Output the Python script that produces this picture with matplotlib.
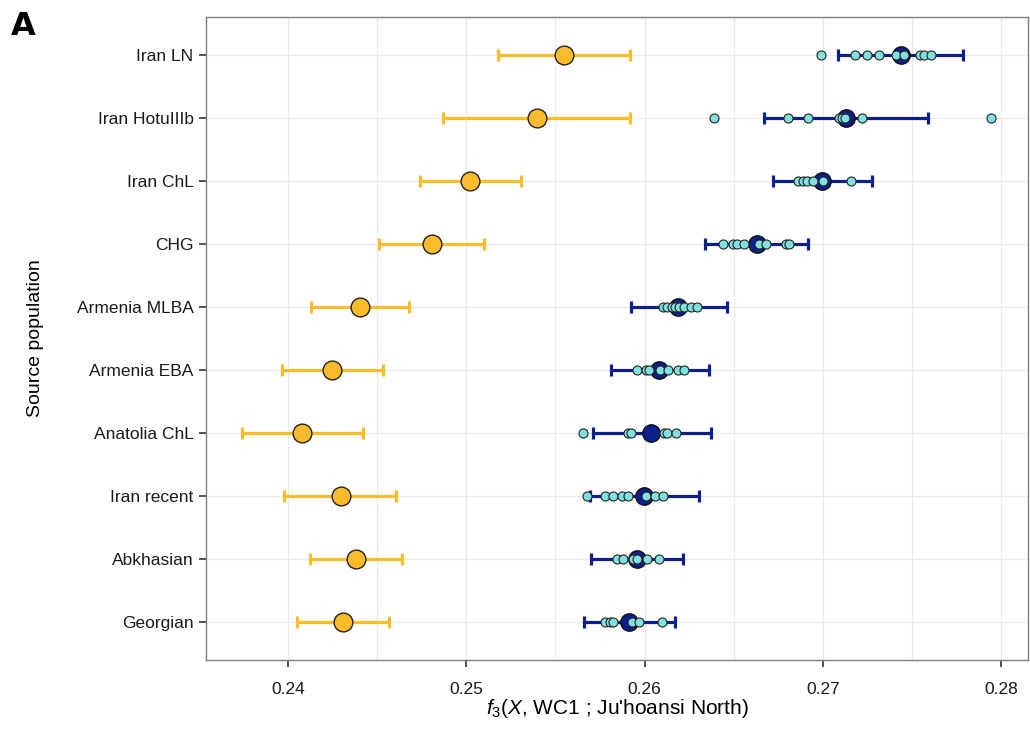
import matplotlib.pyplot as plt
import numpy as np

plt.rcParams['font.family'] = ['Liberation Sans', 'DejaVu Sans']
plt.rcParams['mathtext.fontset'] = 'custom'
plt.rcParams['mathtext.rm'] = 'Liberation Sans'
plt.rcParams['mathtext.it'] = 'Liberation Sans:italic'

# populations, bottom to top
populations = ["Georgian", "Abkhasian", "Iran recent", "Anatolia ChL", "Armenia EBA",
               "Armenia MLBA", "CHG", "Iran ChL", "Iran HotuIIIb", "Iran LN"]

# yellow series (point estimate and error bar ends)
yel_est = [0.24308, 0.24381, 0.24297, 0.24079, 0.24247, 0.24404, 0.24808, 0.25021, 0.25397, 0.25548]
yel_lo = [0.24050, 0.24123, 0.23978, 0.23742, 0.23966, 0.24129, 0.24510, 0.24740, 0.24869, 0.25178]
yel_hi = [0.24566, 0.24639, 0.24606, 0.24421, 0.24533, 0.24679, 0.25099, 0.25307, 0.25918, 0.25918]

# navy series
navy_est = [0.25914, 0.25956, 0.25997, 0.26034, 0.26082, 0.26189, 0.26629, 0.26997, 0.27130, 0.27438]
navy_lo = [0.25660, 0.25701, 0.25694, 0.25709, 0.25810, 0.25922, 0.26339, 0.26721, 0.26670, 0.27085]
navy_hi = [0.26171, 0.26214, 0.26307, 0.26371, 0.26363, 0.26460, 0.26918, 0.27278, 0.27589, 0.27786]

# individual values (cyan points)
indiv = [
    [0.25778, 0.25806, 0.25824, 0.25928, 0.25970, 0.26096],
    [0.25843, 0.25881, 0.25937, 0.25959, 0.26015, 0.26079],
    [0.25679, 0.25778, 0.25824, 0.25872, 0.25905, 0.26008, 0.26058, 0.26102],
    [0.25653, 0.25905, 0.25924, 0.26110, 0.26127, 0.26176],
    [0.25956, 0.26008, 0.26026, 0.26086, 0.26133, 0.26189, 0.26221],
    [0.26105, 0.26127, 0.26152, 0.26171, 0.26195, 0.26221, 0.26260, 0.26292],
    [0.26441, 0.26494, 0.26516, 0.26559, 0.26643, 0.26681, 0.26791, 0.26810],
    [0.26862, 0.26890, 0.26909, 0.26946, 0.27002, 0.27158],
    [0.26389, 0.26806, 0.26918, 0.27090, 0.27109, 0.27122, 0.27217],
    [0.26989, 0.27182, 0.27249, 0.27313, 0.27408, 0.27455, 0.27545, 0.27567, 0.27608],
]
outlier_hotu = 0.27945

yellow = "#FBBC2A"
navy = "#0C1F8C"
cyan = "#80E2DE"

fig = plt.figure(figsize=(10.3, 7.29), dpi=100)
ax = fig.add_axes([0.2, 0.0947, 0.798, 0.882])

y = np.arange(1, len(populations) + 1)

# grid
ax.set_xticks([0.24, 0.25, 0.26, 0.27, 0.28])
ax.set_xticks(np.arange(0.235, 0.2816, 0.005), minor=True)
ax.grid(True, which='both', axis='x', color='#ebebeb', linewidth=1.0, zorder=0)
ax.grid(True, which='major', axis='y', color='#ebebeb', linewidth=1.0, zorder=0)
ax.set_axisbelow(True)

ye = [np.array(yel_est) - np.array(yel_lo), np.array(yel_hi) - np.array(yel_est)]
ax.errorbar(yel_est, y, xerr=ye, fmt='none', ecolor=yellow, elinewidth=2.3,
            capsize=4.5, capthick=2.3, zorder=2)
ax.plot(yel_est, y, 'o', ms=13.5, mfc=yellow, mec='#222222', mew=1.0, zorder=3)

ne = [np.array(navy_est) - np.array(navy_lo), np.array(navy_hi) - np.array(navy_est)]
ax.errorbar(navy_est, y, xerr=ne, fmt='none', ecolor=navy, elinewidth=2.3,
            capsize=4.5, capthick=2.3, zorder=2)
ax.plot(navy_est, y, 'o', ms=12.5, mfc=navy, mec='#111111', mew=1.0, zorder=3)

for i, vals in enumerate(indiv):
    ax.plot(vals, [y[i]] * len(vals), 'o', ms=6.5, mfc=cyan, mec='#222222', mew=0.8, zorder=4)
ax.plot([outlier_hotu], [y[8]], 'o', ms=6.5, mfc=cyan, mec='#222222', mew=0.8, zorder=4)

ax.set_xlim(0.2354, 0.2815)
ax.set_ylim(0.4, 10.6)
ax.set_yticks(y)
ax.set_yticklabels(populations)
ax.set_xticklabels(["0.24", "0.25", "0.26", "0.27", "0.28"])

for s in ax.spines.values():
    s.set_color('#7f7f7f')
    s.set_linewidth(1.0)
ax.tick_params(axis='both', which='major', direction='out', length=5, width=1.2,
               color='#333333', labelsize=12.5, labelcolor='#1a1a1a')
ax.tick_params(axis='x', which='minor', length=0)
ax.tick_params(axis='x', pad=11)
ax.tick_params(axis='y', pad=4)

ax.set_ylabel("Source population", fontsize=14)
ax.yaxis.set_label_coords(-0.197, 0.5)
ax.set_xlabel("$f_3$($X$, WC1 ; Ju'hoansi North)", fontsize=15)
ax.xaxis.set_label_coords(0.5, -0.058)

fig.text(0.011, 0.963, "A", fontsize=23, fontweight='bold', va='center', ha='left',
         family='DejaVu Sans')

plt.savefig("out.png", dpi=100)
